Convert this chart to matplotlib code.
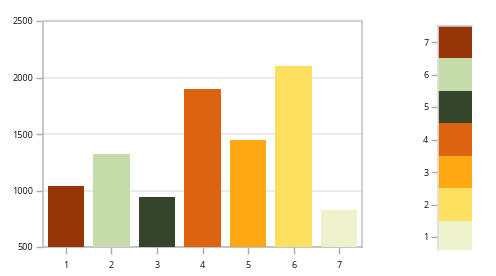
import matplotlib.pyplot as plt

categories = ["1", "2", "3", "4", "5", "6", "7"]
values = [1040, 1320, 940, 1895, 1445, 2100, 825]
bar_colors = ["#963508", "#c5dcaa", "#35452b", "#dc6410", "#fea814", "#fee060", "#eef2cc"]

legend_labels = ["1", "2", "3", "4", "5", "6", "7"]
legend_colors = ["#eef2cc", "#fee060", "#fea814", "#dc6410", "#35452b", "#c5dcaa", "#963508"]

plt.rcParams["font.family"] = ["Open Sans", "DejaVu Sans"]
plt.rcParams["font.size"] = 6.5

W, H = 496, 276
fig = plt.figure(figsize=(W / 100, H / 100), dpi=100)

# main bar chart
ax = fig.add_axes([43 / W, 1 - 247 / H, (362 - 43) / W, (247 - 21) / H])
x = list(range(len(categories)))
ax.bar(x, [v - 500 for v in values], bottom=500, width=0.8, color=bar_colors, zorder=3)
ax.set_xlim(-0.5, len(categories) - 0.5)
ax.set_ylim(500, 2500)
ax.set_yticks([500, 1000, 1500, 2000, 2500])
ax.set_xticks(x)
ax.set_xticklabels(categories)
ax.yaxis.grid(True, color="#e6e6e6", linewidth=1.2, zorder=0)
ax.tick_params(axis="both", colors="#aaaaaa", labelcolor="#111111", length=5, width=1)
ax.tick_params(axis="x", pad=5)
ax.tick_params(axis="y", pad=2)
for side in ["left", "bottom"]:
    ax.spines[side].set_color("#bbbbbb")
    ax.spines[side].set_linewidth(1.2)
for side in ["top", "right"]:
    ax.spines[side].set_color("#d0d0d0")
    ax.spines[side].set_linewidth(1.5)

# color legend on the right
lax = fig.add_axes([438 / W, 1 - 250 / H, (472 - 438) / W, (250 - 25.75) / H])
ly = [int(l) for l in legend_labels]
lax.bar([0] * len(ly), [1] * len(ly), bottom=[v - 0.5 for v in ly], width=1,
        color=legend_colors)
lax.set_xlim(-0.5, 0.5)
lax.set_ylim(0.6, 7.5)
lax.set_xticks([])
lax.set_yticks(ly)
lax.set_yticklabels(legend_labels)
lax.tick_params(axis="y", colors="#aaaaaa", labelcolor="#111111", length=5, width=1, pad=2)
lax.spines["left"].set_color("#dddddd")
lax.spines["left"].set_linewidth(1.2)
lax.spines["top"].set_color("#cccccc")
lax.spines["top"].set_linewidth(1.2)
lax.spines["right"].set_visible(False)
lax.spines["bottom"].set_visible(False)

fig.savefig("out.png", dpi=100)
